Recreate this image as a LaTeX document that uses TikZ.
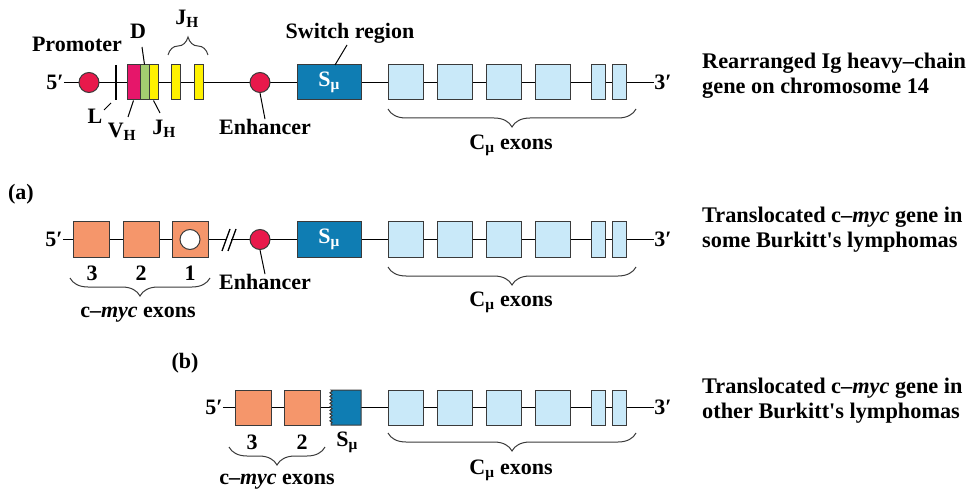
\documentclass[tikz,border=0pt]{standalone}
\usepackage{fontspec}
\setmainfont{Liberation Serif}
\usetikzlibrary{decorations.pathreplacing,decorations.pathmorphing}
\definecolor{promred}{HTML}{E8194B}
\definecolor{vhmag}{HTML}{E6166A}
\definecolor{dgreen}{HTML}{A3CD70}
\definecolor{jyellow}{HTML}{FFF200}
\definecolor{smublue}{HTML}{0F7DB3}
\definecolor{lightblue}{HTML}{C9E9F9}
\definecolor{mycorange}{HTML}{F5966B}
\definecolor{boxline}{HTML}{3A3A3A}
\tikzset{
  lbl/.style={font=\fontsize{22}{25}\selectfont\bfseries, inner sep=0pt},
  desc/.style={font=\fontsize{22.3}{25}\selectfont\bfseries, inner sep=0pt, align=left, anchor=west},
  backbone/.style={line width=1.8pt, black},
  exon/.style={draw=boxline, line width=1pt, minimum height=35pt, inner sep=0pt},
  cmu/.style={exon, fill=lightblue, minimum width=35pt},
  cmun/.style={exon, fill=lightblue, minimum width=14pt},
  myc/.style={exon, fill=mycorange, minimum width=36pt},
  dot/.style={circle, draw=boxline, line width=1pt, fill=promred, minimum size=20pt, inner sep=0pt},
  pointer/.style={line width=1pt, black},
  bracedown/.style={decorate, decoration={brace, mirror, amplitude=18pt}, line width=1pt, boxline},
  braceup/.style={decorate, decoration={brace, amplitude=18pt}, line width=1pt, boxline},
  slash/.style={line width=1.3pt, black},
}
\begin{document}
\begin{tikzpicture}[x=1pt,y=-1pt]
\useasboundingbox (0,0) rectangle (976,494);

% ================= Row 1 =================
\node[lbl] (f1) at (55,82.5) {5′};
\node[lbl] (t1) at (663,82.5) {3′};
\draw[backbone] (f1.east) -- (t1.west);
\node[dot] (prom) at (89,82.5) {};
\coordinate (Ltop) at (116,65);
\coordinate (Lbot) at (116,100);
\draw[line width=1.5pt] (Ltop) -- (Lbot);
\node[exon, fill=vhmag, minimum width=13pt] (vh) at (133.5,82.5) {};
\node[exon, fill=dgreen, minimum width=9pt] (d) at (144.5,82.5) {};
\node[exon, fill=jyellow, minimum width=9pt] (jh) at (153.5,82.5) {};
\node[exon, fill=jyellow, minimum width=9pt] (j2) at (176.3,82.5) {};
\node[exon, fill=jyellow, minimum width=9pt] (j3) at (198.8,82.5) {};
\node[dot] (enh1) at (260,82.5) {};
\node[exon, fill=smublue, minimum width=64pt, lbl] (smu1) at (329,82.5) {\color{white}S\textsubscript{μ}};
\foreach \x [count=\i] in {405.8,454.8,504.2,553.2} \node[cmu] (ca\i) at (\x,82.5) {};
\node[cmun] (ca5) at (598.7,82.5) {};
\node[cmun] (ca6) at (619.5,82.5) {};

\node[lbl] (promlbl) at (77,44) {Promoter};
\node[lbl] (dlbl) at (138,31) {D};
\coordinate (dp) at (142,47);
\draw[pointer] (dp) -- (d.north);
\node[lbl] (jhtop) at (187,19) {J\textsubscript{H}};
\coordinate (jb1) at (168,55);
\coordinate (jb2) at (208,55);
\draw[braceup] (jb1) -- (jb2);
\node[lbl] (llbl) at (95,116) {L};
\coordinate (lp1) at (104,110);
\coordinate (lp2) at (111,103);
\draw[pointer] (lp1) -- (lp2);
\node[lbl] (vhlbl) at (122,132) {V\textsubscript{H}};
\coordinate (vhp) at (128,117);
\draw[pointer] (vhp) -- (vh.south);
\node[lbl] (jhlbl) at (164,129) {J\textsubscript{H}};
\coordinate (jhp) at (160,113);
\draw[pointer] (jh.south) -- (jhp);
\node[lbl] (enhlbl1) at (265,127) {Enhancer};
\draw[pointer] (enh1.south) -- (enhlbl1.north);
\node[lbl] (swlbl) at (350,33) {Switch region};
\coordinate (swp1) at (335,65);
\coordinate (swp2) at (347,45);
\draw[pointer] (swp1) -- (swp2);
\coordinate (cb1a) at (388,109);
\coordinate (cb1b) at (636,109);
\draw[bracedown] (cb1a) -- (cb1b);
\node[lbl] (cmu1) at (511,145) {C\textsubscript{μ} exons};
\node[desc] (desc1) at (702,76) {Rearranged Ig heavy–chain\\gene on chromosome 14};

% ================= Row (a) =================
\node[lbl] (alab) at (21,194) {(a)};
\node[lbl] (f2) at (54,239.5) {5′};
\node[lbl] (t2) at (663,239.5) {3′};
\coordinate (brk1) at (226,239.5);
\coordinate (brk2) at (231,239.5);
\draw[backbone] (f2.east) -- (brk1);
\draw[backbone] (brk2) -- (t2.west);
\coordinate (s1a) at (222,251);
\coordinate (s1b) at (230,229);
\coordinate (s2a) at (228,251);
\coordinate (s2b) at (236,229);
\draw[slash] (s1a) -- (s1b);
\draw[slash] (s2a) -- (s2b);
\node[myc] (m21) at (91.5,239.5) {};
\node[myc] (m22) at (141,239.5) {};
\node[myc] (m23) at (190,239.5) {};
\node[circle, draw=boxline, line width=1pt, fill=white, minimum size=20pt, inner sep=0pt] (intron) at (190,239.5) {};
\node[dot] (enh2) at (260,239.5) {};
\node[exon, fill=smublue, minimum width=64pt, lbl] (smu2) at (329,239.5) {\color{white}S\textsubscript{μ}};
\foreach \x [count=\i] in {405.8,454.8,504.2,553.2} \node[cmu] (cb\i) at (\x,239.5) {};
\node[cmun] (cb5) at (598.7,239.5) {};
\node[cmun] (cb6) at (619.5,239.5) {};

\node[lbl] (n23) at (92,273) {3};
\node[lbl] (n22) at (141,273) {2};
\node[lbl] (n21) at (190,273) {1};
\coordinate (mb2a) at (70,278);
\coordinate (mb2b) at (210,278);
\draw[bracedown] (mb2a) -- (mb2b);
\node[lbl] (myc2) at (138,315) {c–\textit{myc} exons};
\node[lbl] (enhlbl2) at (265,282) {Enhancer};
\draw[pointer] (enh2.south) -- (enhlbl2.north);
\coordinate (cb2a) at (388,267);
\coordinate (cb2b) at (636,267);
\draw[bracedown] (cb2a) -- (cb2b);
\node[lbl] (cmu2) at (511,302) {C\textsubscript{μ} exons};
\node[desc] (desc2) at (702,230) {Translocated c–\textit{myc} gene in\\some Burkitt\textquotesingle s lymphomas};

% ================= Row (b) =================
\node[lbl] (blab) at (185,363) {(b)};
\node[lbl] (f3) at (214,407.5) {5′};
\node[lbl] (t3) at (663,407.5) {3′};
\draw[backbone] (f3.east) -- (t3.west);
\node[myc] (m31) at (253,407.5) {};
\node[myc] (m32) at (302,407.5) {};
\draw[draw=boxline, line width=1pt, fill=smublue] (361,390) -- (331,390)
  decorate[decoration={snake, amplitude=1.1pt, segment length=3.5pt}] {-- (331,425)}
  -- (361,425) -- cycle;
\coordinate (smu3) at (346,407.5);
\foreach \x [count=\i] in {405.8,454.8,504.2,553.2} \node[cmu] (cc\i) at (\x,407.5) {};
\node[cmun] (cc5) at (598.7,407.5) {};
\node[cmun] (cc6) at (619.5,407.5) {};

\node[lbl] (n33) at (252,442) {3};
\node[lbl] (n32) at (302,442) {2};
\node[lbl] (smulbl3) at (347,442) {S\textsubscript{μ}};
\coordinate (mb3a) at (229,447);
\coordinate (mb3b) at (325,447);
\draw[bracedown] (mb3a) -- (mb3b);
\node[lbl] (myc3) at (277,482) {c–\textit{myc} exons};
\coordinate (cb3a) at (388,433);
\coordinate (cb3b) at (636,433);
\draw[bracedown] (cb3a) -- (cb3b);
\node[lbl] (cmu3) at (511,470) {C\textsubscript{μ} exons};
\node[desc] (desc3) at (702,401) {Translocated c–\textit{myc} gene in\\other Burkitt\textquotesingle s lymphomas};
\end{tikzpicture}
\end{document}
